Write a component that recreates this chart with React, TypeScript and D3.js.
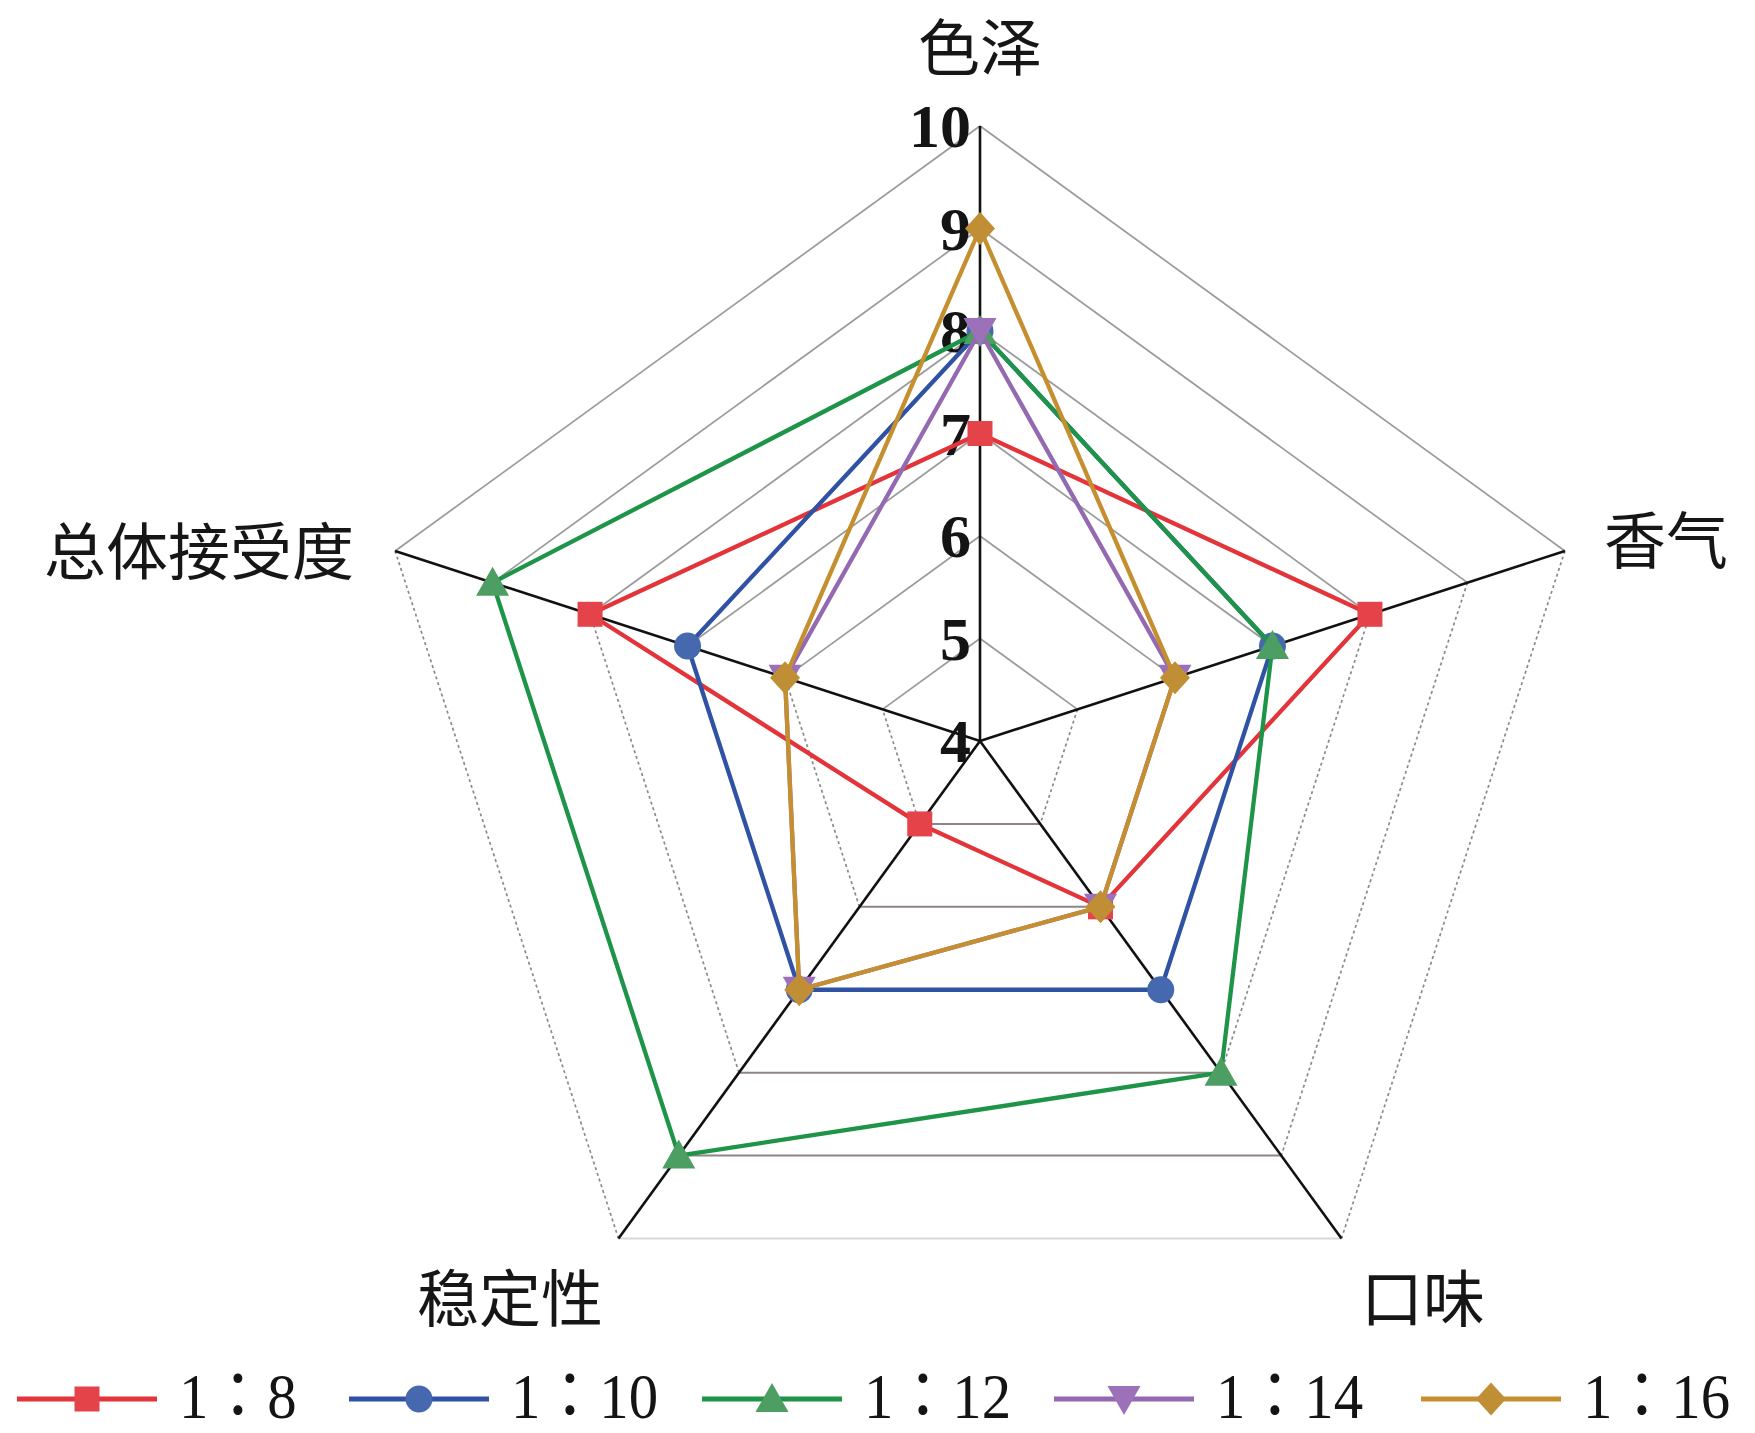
import React from 'react';
import * as d3 from 'd3';

const categories = ['色泽', '香气', '口味', '稳定性', '总体接受度'];
const seriesNames = ['1：8', '1：10', '1：12', '1：14', '1：16'];
const ratio8 = [7, 8, 6, 5, 8];
const ratio10 = [8, 7, 7, 7, 7];
const ratio12 = [8, 7, 8, 9, 9];
const ratio14 = [8, 6, 6, 7, 6];
const ratio16 = [9, 6, 6, 7, 6];
const ticks = [4, 5, 6, 7, 8, 9, 10];

const seriesValues = [ratio8, ratio10, ratio12, ratio14, ratio16];
const lineColors = ['#E3343A', '#2F52A4', '#1E9448', '#9369B1', '#C58F30'];
const markerColors = ['#E5434A', '#4668AF', '#4C9E62', '#9C71B9', '#C08E34'];
const markerTypes = ['square', 'circle', 'triangle', 'triangleDown', 'diamond'];

const W = 1755, H = 1433;
const cx = 980, cy = 741, R = 615;

function markerPath(type: string) {
  switch (type) {
    case 'square': return 'M-12.5,-12.5H12.5V12.5H-12.5Z';
    case 'circle': return d3.symbol(d3.symbolCircle, Math.PI * 13.5 * 13.5)() as string;
    case 'triangle': return 'M0,-16L16.5,13H-16.5Z';
    case 'triangleDown': return 'M0,16L16.5,-13H-16.5Z';
    case 'diamond': return 'M0,-16.5L15,0L0,16.5L-15,0Z';
  }
  return '';
}

export default function App() {
  const r = d3.scaleLinear().domain([4, 10]).range([0, R]);
  const angle = d3.scaleLinear().domain([0, categories.length]).range([0, 2 * Math.PI]);
  const pt = (i: number, v: number): [number, number] => {
    const a = angle(i);
    return [cx + r(v) * Math.sin(a), cy - r(v) * Math.cos(a)];
  };
  const rings = ticks.filter((t) => t > 4);
  const lineGen = d3.line<[number, number]>().curve(d3.curveLinearClosed);

  // edge styles: 0:色泽-香气, 1:香气-口味, 2:口味-稳定性, 3:稳定性-总体, 4:总体-色泽
  const edgeStyle = (e: number, t: number) => {
    if (e === 0 || e === 4) return { stroke: '#9a9a9a', strokeWidth: 1.7, dash: undefined as string | undefined };
    if (e === 2) return { stroke: t === 10 ? '#dcd6d4' : '#8e8584', strokeWidth: 2, dash: undefined };
    return { stroke: '#8a8a8a', strokeWidth: 1.7, dash: '3 3' };
  };

  const legendX = [17, 349, 702, 1054, 1421];
  const legendY = 1399;

  return (
    <svg width={W} height={H} style={{ display: 'block', position: 'absolute', left: 0, top: 0, background: '#fff' }}>
      <rect x={0} y={0} width={W} height={H} fill="#fff" />
      {/* grid */}
      {rings.map((t) =>
        categories.map((_, e) => {
          const [x1, y1] = pt(e, t);
          const [x2, y2] = pt((e + 1) % categories.length, t);
          const s = edgeStyle(e, t);
          return (
            <line key={`g${t}-${e}`} x1={x1} y1={y1} x2={x2} y2={y2}
              stroke={s.stroke} strokeWidth={s.strokeWidth} strokeDasharray={s.dash} />
          );
        })
      )}
      {/* axes */}
      {categories.map((_, i) => {
        const [x, y] = pt(i, 10);
        return <line key={`a${i}`} x1={cx} y1={cy} x2={x} y2={y} stroke="#111" strokeWidth={2.6} />;
      })}
      {/* tick labels */}
      {ticks.map((t) => {
        const [, y] = pt(0, t);
        return (
          <text key={`t${t}`} x={cx - 9} y={y + 21} textAnchor="end"
            fontFamily="'Liberation Serif', 'Times New Roman', serif" fontWeight="bold" fontSize={62} fill="#141414">
            {t}
          </text>
        );
      })}
      {/* category labels */}
      <g fontFamily="'Noto Sans CJK SC', sans-serif" fontSize={62} fill="#161616" dominantBaseline="central">
        <text x={980} y={44} textAnchor="middle">{categories[0]}</text>
        <text x={1604} y={537} textAnchor="start">{categories[1]}</text>
        <text x={1423} y={1295} textAnchor="middle">{categories[2]}</text>
        <text x={510} y={1295} textAnchor="middle">{categories[3]}</text>
        <text x={354} y={548} textAnchor="end">{categories[4]}</text>
      </g>
      {/* series */}
      {seriesValues.map((vals, s) => {
        const pts = vals.map((v, i) => pt(i, v));
        return (
          <g key={`s${s}`}>
            <path d={lineGen(pts) as string} fill="none" stroke={lineColors[s]} strokeWidth={4.3} strokeLinejoin="round" />
            {pts.map(([x, y], i) => (
              <path key={i} d={markerPath(markerTypes[s])} transform={`translate(${x},${y})`} fill={markerColors[s]} />
            ))}
          </g>
        );
      })}
      {/* legend */}
      {seriesNames.map((name, s) => {
        const x0 = legendX[s];
        return (
          <g key={`l${s}`}>
            <line x1={x0} y1={legendY} x2={x0 + 140} y2={legendY} stroke={lineColors[s]} strokeWidth={5} />
            <path d={markerPath(markerTypes[s])} transform={`translate(${x0 + 70},${legendY})`} fill={markerColors[s]} />
            <text transform={`translate(${x0 + 162},${legendY + 19}) scale(0.92,1)`} x={0} y={0}
              fontFamily="'Liberation Serif', 'Noto Sans CJK JP', serif" fontSize={64} fill="#141414">
              {name}
            </text>
          </g>
        );
      })}
    </svg>
  );
}
